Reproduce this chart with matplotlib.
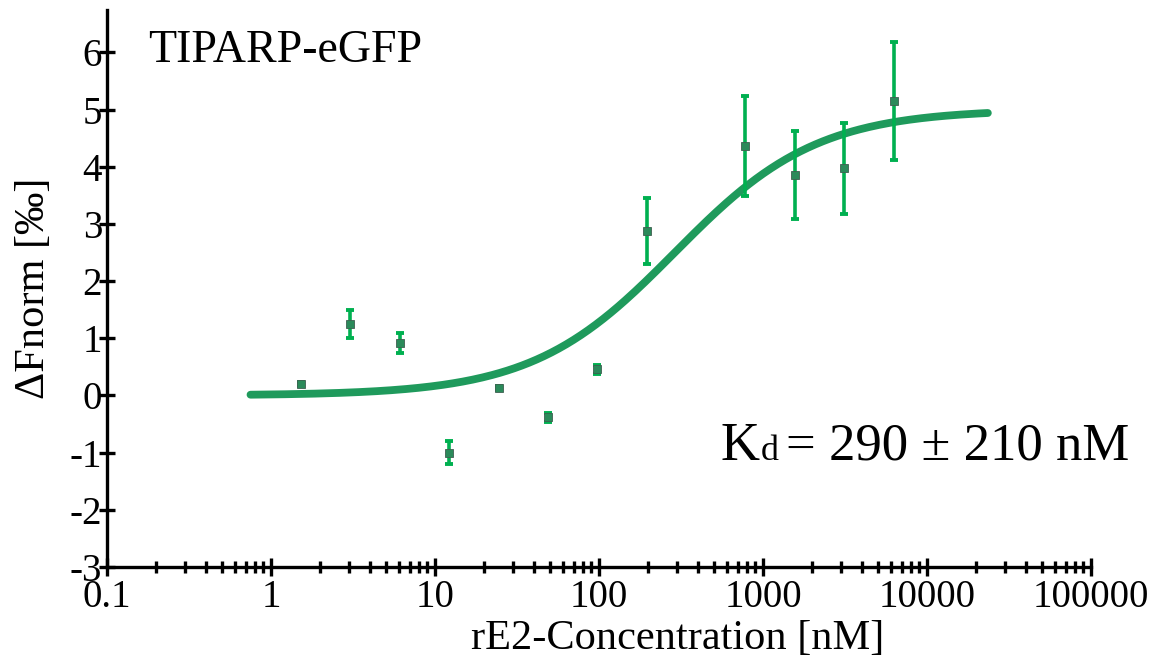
import numpy as np
import matplotlib.pyplot as plt
from matplotlib.ticker import FixedLocator, FixedFormatter, LogLocator, NullFormatter

plt.rcParams['font.family'] = ['Liberation Serif', 'DejaVu Serif']
plt.rcParams['axes.unicode_minus'] = False

# ==================== 数据 ====================
conc_nM   = [1.53, 3.05, 6.1, 12.2, 24.4, 48.8, 97.7, 195.3, 781.3, 1562.5, 3125, 6250]
fnorm     = [0.20, 1.25, 0.92, -1.00, 0.13, -0.38, 0.46, 2.87, 4.36, 3.85, 3.97, 5.15]
fnorm_err = [0.04, 0.25, 0.18, 0.20, 0.03, 0.08, 0.08, 0.58, 0.88, 0.77, 0.79, 1.03]

KD_NM      = 290.0
FIT_BOTTOM = 0.0
FIT_TOP    = 5.0
FIT_RANGE  = (0.75, 23500)

x_ticks  = [0.1, 1, 10, 100, 1000, 10000, 100000]
x_labels = ["0.1", "1", "10", "100", "1000", "10000", "100000"]
y_ticks  = [-3, -2, -1, 0, 1, 2, 3, 4, 5, 6]

CURVE_COLOR = "#1f9a5c"
ERR_COLOR   = "#00b050"
MARK_COLOR  = "#2b8a5a"

W, H = 1165, 659

# ==================== 绘图 ====================
fig = plt.figure(figsize=(W / 100, H / 100), dpi=100)
ax = fig.add_axes([107 / W, 1 - 567 / H, (1091 - 107) / W, (567 - 10) / H])

xfit = np.logspace(np.log10(FIT_RANGE[0]), np.log10(FIT_RANGE[1]), 300)
yfit = FIT_BOTTOM + (FIT_TOP - FIT_BOTTOM) * xfit / (xfit + KD_NM)
ax.plot(xfit, yfit, color=CURVE_COLOR, linewidth=5.6, solid_capstyle="round", zorder=2)

ax.errorbar(conc_nM, fnorm, yerr=fnorm_err, fmt="none", ecolor=ERR_COLOR,
            elinewidth=2.6, capsize=2.8, capthick=2.8, zorder=3)
ax.plot(conc_nM, fnorm, "s", color=MARK_COLOR, markersize=6,
        markeredgecolor="#3f5f50", markeredgewidth=0.6, linestyle="none", zorder=4)

ax.set_xscale("log")
ax.set_xlim(0.1, 100000)
ax.set_ylim(-3, 6.74)

ax.xaxis.set_major_locator(FixedLocator(x_ticks))
ax.xaxis.set_major_formatter(FixedFormatter(x_labels))
ax.xaxis.set_minor_locator(LogLocator(base=10, subs=np.arange(2, 10), numticks=20))
ax.xaxis.set_minor_formatter(NullFormatter())
ax.set_yticks(y_ticks)
ax.set_yticklabels([str(v) for v in y_ticks])

for side in ["top", "right"]:
    ax.spines[side].set_visible(False)
for side in ["left", "bottom"]:
    ax.spines[side].set_linewidth(2.4)

ax.tick_params(axis="both", which="major", direction="inout", width=2.4, labelsize=28)
ax.tick_params(axis="y", which="major", length=11, pad=-2)
ax.tick_params(axis="x", which="major", length=13, pad=2)
ax.tick_params(axis="x", which="minor", direction="inout", length=9, width=2.4)

# x 轴标签在参考图里偏右
ax.set_xlabel("rE2-Concentration [nM]", fontsize=30.5)
ax.xaxis.label.set_va("baseline")
ax.xaxis.set_label_coords((678 - 107) / 984, (567 - 649) / 557)
ax.set_ylabel("ΔFnorm [‰]", fontsize=30.5, labelpad=12)

ax.text(148 / W, 1 - 62 / H, "TIPARP-eGFP", transform=fig.transFigure,
        fontsize=33, ha="left", va="baseline")
ax.text(721 / W, 1 - 460 / H, "K", transform=fig.transFigure,
        fontsize=39, ha="left", va="baseline")
ax.text(761 / W, 1 - 460 / H, "d", transform=fig.transFigure,
        fontsize=26, ha="left", va="baseline")
ax.text(786 / W, 1 - 460 / H, "= 290 ± 210 nM", transform=fig.transFigure,
        fontsize=38, ha="left", va="baseline")

plt.savefig("out.png", dpi=100)
plt.close()
